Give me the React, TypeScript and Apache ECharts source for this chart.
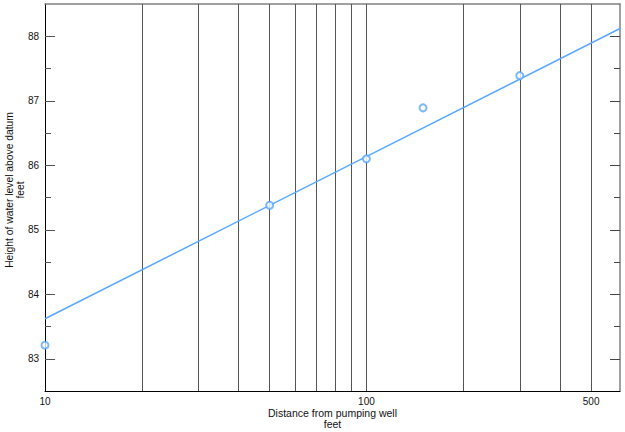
import React, { useEffect, useRef } from "react";
import * as echarts from "echarts";

const distances = [10, 50, 100, 150, 300];
const heights = [83.21, 85.38, 86.1, 86.89, 87.39];
const fitX = [10, 615];
const fitY = [83.62, 88.12];
const gridValues = [20, 30, 40, 50, 60, 70, 80, 90, 100, 200, 300, 400, 500];
const xLabels = [10, 100, 500];
const yMajor = [83, 84, 85, 86, 87, 88];
const yMinor = [83.5, 84.5, 85.5, 86.5, 87.5];

const FONT = "Liberation Sans, Arial, Helvetica, sans-serif";
const TXT = "#111";

export default function App() {
  const ref = useRef<HTMLDivElement>(null);
  useEffect(() => {
    if (!ref.current) return;
    const chart = echarts.init(ref.current, undefined, { renderer: "svg" });
    const yBase = { type: "value", min: 82.5, max: 88.5, splitLine: { show: false } };
    chart.setOption({
      animation: false,
      grid: { left: 45, right: 5, top: 4, bottom: 41, containLabel: false, outerBoundsMode: "none" },
      xAxis: [
        {
          type: "log",
          logBase: 10,
          min: 10,
          max: 615,
          position: "bottom",
          axisLine: { lineStyle: { color: "#000", width: 1 } },
          axisTick: { show: false },
          splitLine: { show: false },
          minorSplitLine: { show: false },
          axisLabel: {
            customValues: xLabels,
            color: TXT,
            fontFamily: FONT,
            fontSize: 10,
            margin: 5,
            formatter: (v: number) => String(Math.round(v)),
          },
          name: "Distance from pumping well\nfeet",
          nameLocation: "middle",
          nameGap: 16,
          nameMoveOverlap: false,
          nameTextStyle: { color: TXT, fontFamily: FONT, fontSize: 10.5, lineHeight: 11 },
        },
        {
          type: "log",
          logBase: 10,
          min: 10,
          max: 615,
          position: "top",
          axisLine: { lineStyle: { color: "#808080", width: 1.5 } },
          axisTick: { show: false },
          axisLabel: { show: false },
          splitLine: { show: false },
        },
      ],
      yAxis: [
        {
          ...yBase,
          position: "left",
          axisLine: { show: true, lineStyle: { color: "#000", width: 1 } },
          axisTick: { show: true, inside: true, length: 10, customValues: yMajor, lineStyle: { color: "#555", width: 1 } },
          axisLabel: {
            customValues: yMajor,
            color: TXT,
            fontFamily: FONT,
            fontSize: 10,
            margin: 6,
          },
          name: "Height of water level above datum\nfeet",
          nameLocation: "middle",
          nameGap: 19,
          nameMoveOverlap: false,
          nameTextStyle: { color: TXT, fontFamily: FONT, fontSize: 10.3, lineHeight: 11, padding: [0, 0, 0, 15] },
        },
        {
          ...yBase,
          position: "left",
          axisLine: { show: false },
          axisTick: { show: true, inside: true, length: 6, customValues: yMinor, lineStyle: { color: "#555", width: 1 } },
          axisLabel: { show: false },
        },
        {
          ...yBase,
          position: "right",
          axisLine: { show: true, lineStyle: { color: "#808080", width: 1.5 } },
          axisTick: { show: true, inside: true, length: 10, customValues: yMajor, lineStyle: { color: "#444", width: 1 } },
          axisLabel: { show: false },
        },
        {
          ...yBase,
          position: "right",
          axisLine: { show: false },
          axisTick: { show: true, inside: true, length: 6, customValues: yMinor, lineStyle: { color: "#444", width: 1 } },
          axisLabel: { show: false },
        },
      ],
      series: [
        {
          type: "line",
          xAxisIndex: 0,
          yAxisIndex: 0,
          data: fitX.map((x, i) => [x, fitY[i]]),
          showSymbol: false,
          symbol: "none",
          lineStyle: { color: "#5aa8ff", width: 1.5 },
          silent: true,
          z: 3,
          markLine: {
            silent: true,
            symbol: ["none", "none"],
            label: { show: false },
            lineStyle: { color: "#555", type: "solid", width: 1 },
            data: gridValues.map((v) => ({ xAxis: v })),
            z: 1,
          },
        },
        {
          type: "scatter",
          xAxisIndex: 0,
          yAxisIndex: 0,
          data: distances.map((x, i) => [x, heights[i]]),
          symbol: "emptyCircle",
          symbolSize: 7,
          itemStyle: { color: "#5aa8ff", borderColor: "#5aa8ff", borderWidth: 1.5 },
          z: 4,
        },
      ],
    });
    return () => chart.dispose();
  }, []);
  return <div ref={ref} style={{ width: 625, height: 432, position: "absolute", left: 0, top: 0 }} />;
}
